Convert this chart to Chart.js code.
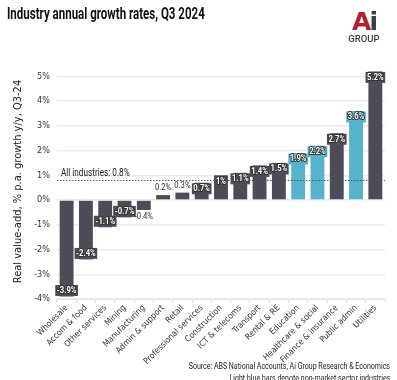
<!DOCTYPE html>
<html>
<head>
<meta charset="utf-8">
<script src="https://cdn.jsdelivr.net/npm/chart.js@4"></script>
<style>
  body { margin: 0; background: #fff; }
  .wrap { position: relative; width: 397px; height: 380px; overflow: hidden; font-family: Roboto, sans-serif; }
  #canvas { position: absolute; left: 0; top: 0; }
  .title { position: absolute; left: 7px; top: 4px; font-size: 16px; font-weight: bold; color: #111; transform: scaleX(0.72); transform-origin: left top; white-space: nowrap; }
  .logo { position: absolute; left: 347px; top: 10px; width: 34px; text-align: center; }
  .logo .ai { font-family: 'DejaVu Sans', sans-serif; font-size: 25px; font-weight: bold; line-height: 23px; letter-spacing: -2px; }
  .logo .ai .a { color: #b41f32; }
  .logo .ai .i { color: #3a4049; }
  .logo .grp { font-family: Roboto, sans-serif; font-size: 9.5px; font-weight: 500; color: #3a4049; line-height: 9px; margin-top: 1px; }
  .foot { position: absolute; right: 7px; font-size: 9.5px; color: #222; white-space: nowrap; transform: scaleX(0.74); transform-origin: right top; }
</style>
</head>
<body>
<div class="wrap">
  <canvas id="canvas" width="397" height="380"></canvas>
  <div class="title">Industry annual growth rates, Q3 2024</div>
  <div class="logo"><div class="ai"><span class="a">A</span><span class="i">i</span></div><div class="grp">GROUP</div></div>
  <div class="foot" style="top:360px">Source: ABS National Accounts, Ai Group Research &amp; Economics</div>
  <div class="foot" style="top:372px">Light blue bars denote non-market sector industries</div>
</div>
<script>
const industries = ['Wholesale', 'Accom & food', 'Other services', 'Mining', 'Manufacturing', 'Admin & support', 'Retail', 'Professional services', 'Construction', 'ICT & telecoms', 'Transport', 'Rental & RE', 'Education', 'Healthcare & social', 'Finance & insurance', 'Public admin', 'Utilities']
const growth = [-3.9, -2.4, -1.1, -0.7, -0.4, 0.2, 0.3, 0.7, 1.0, 1.1, 1.4, 1.5, 1.9, 2.2, 2.7, 3.6, 5.2]
const nonMarket = ['Education', 'Healthcare & social', 'Public admin']
const allIndustries = 0.8

const dark = '#4b4c57'
const blue = '#55b3cc'
const barColors = industries.map(name => nonMarket.includes(name) ? blue : dark)

const fmt = v => `${v}%`
const font = "'DejaVu Sans Condensed', 'Liberation Sans Narrow', Roboto, sans-serif"

// draws text squeezed horizontally, like the condensed face in the original
const narrowText = (ctx, text, x, y, sx, stroke) => {
    ctx.save()
    ctx.translate(x, y)
    ctx.scale(sx, 1)
    if (stroke) ctx.strokeText(text, 0, 0)
    ctx.fillText(text, 0, 0)
    ctx.restore()
}

const averageLine = {
    id: 'averageLine',
    afterDatasetsDraw(chart) {
        const { ctx, chartArea, scales } = chart
        const y = Math.round(scales.y.getPixelForValue(allIndustries)) + 0.5
        ctx.save()
        ctx.strokeStyle = '#555'
        ctx.lineWidth = 1
        ctx.setLineDash([1.5, 1.5])
        ctx.beginPath()
        ctx.moveTo(chartArea.left, y)
        ctx.lineTo(chartArea.right, y)
        ctx.stroke()
        ctx.setLineDash([])
        ctx.fillStyle = '#222'
        ctx.font = `10px Roboto, sans-serif`
        ctx.textBaseline = 'bottom'
        narrowText(ctx, `All industries: ${fmt(allIndustries)}`, chartArea.left + 4, y - 2, 0.82)
        ctx.restore()
    }
}

const barLabels = {
    id: 'barLabels',
    afterDatasetsDraw(chart) {
        const { ctx } = chart
        const meta = chart.getDatasetMeta(0)
        ctx.save()
        ctx.font = `bold 9px Roboto, sans-serif`
        ctx.textAlign = 'center'
        ctx.textBaseline = 'middle'
        meta.data.forEach((bar, i) => {
            const v = growth[i]
            const text = fmt(v)
            const w = ctx.measureText(text).width * 0.85 + 3
            const h = 11
            if (Math.abs(v) < 0.5) {
                const cy = v >= 0 ? bar.y - 7 : bar.y + 7
                ctx.fillStyle = '#333'
                ctx.font = `9px Roboto, sans-serif`
                narrowText(ctx, text, bar.x, cy, 0.85)
                ctx.font = `bold 9px Roboto, sans-serif`
            } else {
                const cy = v >= 0 ? bar.y + 6 : bar.y - 6
                ctx.fillStyle = barColors[i]
                ctx.fillRect(bar.x - w / 2, cy - h / 2, w, h)
                ctx.lineWidth = 2
                ctx.strokeStyle = '#333'
                ctx.fillStyle = '#fff'
                narrowText(ctx, text, bar.x, cy, 0.85, true)
            }
        })
        ctx.restore()
    }
}

const ctx = document.querySelector('#canvas').getContext('2d')
const chart = new Chart(ctx, {
    type: 'bar',
    data: {
        labels: industries,
        datasets: [{
            data: growth,
            backgroundColor: barColors,
            borderWidth: 0,
            barPercentage: 0.72,
            categoryPercentage: 1
        }]
    },
    options: {
        responsive: false,
        animation: false,
        layout: { padding: { left: 10, right: 12, top: 64, bottom: 0 } },
        plugins: {
            legend: { display: false },
            tooltip: { enabled: false }
        },
        scales: {
            x: {
                afterFit: scale => { scale.height = 81 },
                grid: { drawOnChartArea: false, drawTicks: true, tickLength: 4, color: '#dedede' },
                border: { color: '#e6e6e6' },
                ticks: {
                    color: '#333',
                    font: { family: font, size: 8.5 },
                    maxRotation: 45,
                    minRotation: 45,
                    autoSkip: false,
                    padding: 0
                }
            },
            y: {
                min: -4,
                max: 5.5,
                afterBuildTicks: scale => {
                    scale.ticks = scale.ticks.filter(t => Number.isInteger(t.value))
                },
                grid: { color: '#ebebeb', lineWidth: 1.5, drawTicks: false },
                border: { display: false },
                ticks: {
                    stepSize: 1,
                    color: '#333',
                    padding: 7,
                    font: { family: font, size: 9 },
                    callback: v => fmt(v)
                },
                title: {
                    display: true,
                    text: 'Real value-add, % p.a. growth y/y, Q3-24',
                    color: '#222',
                    font: { family: font, size: 11 },
                    padding: 2
                }
            }
        }
    },
    plugins: [averageLine, barLabels]
})
</script>
</body>
</html>
